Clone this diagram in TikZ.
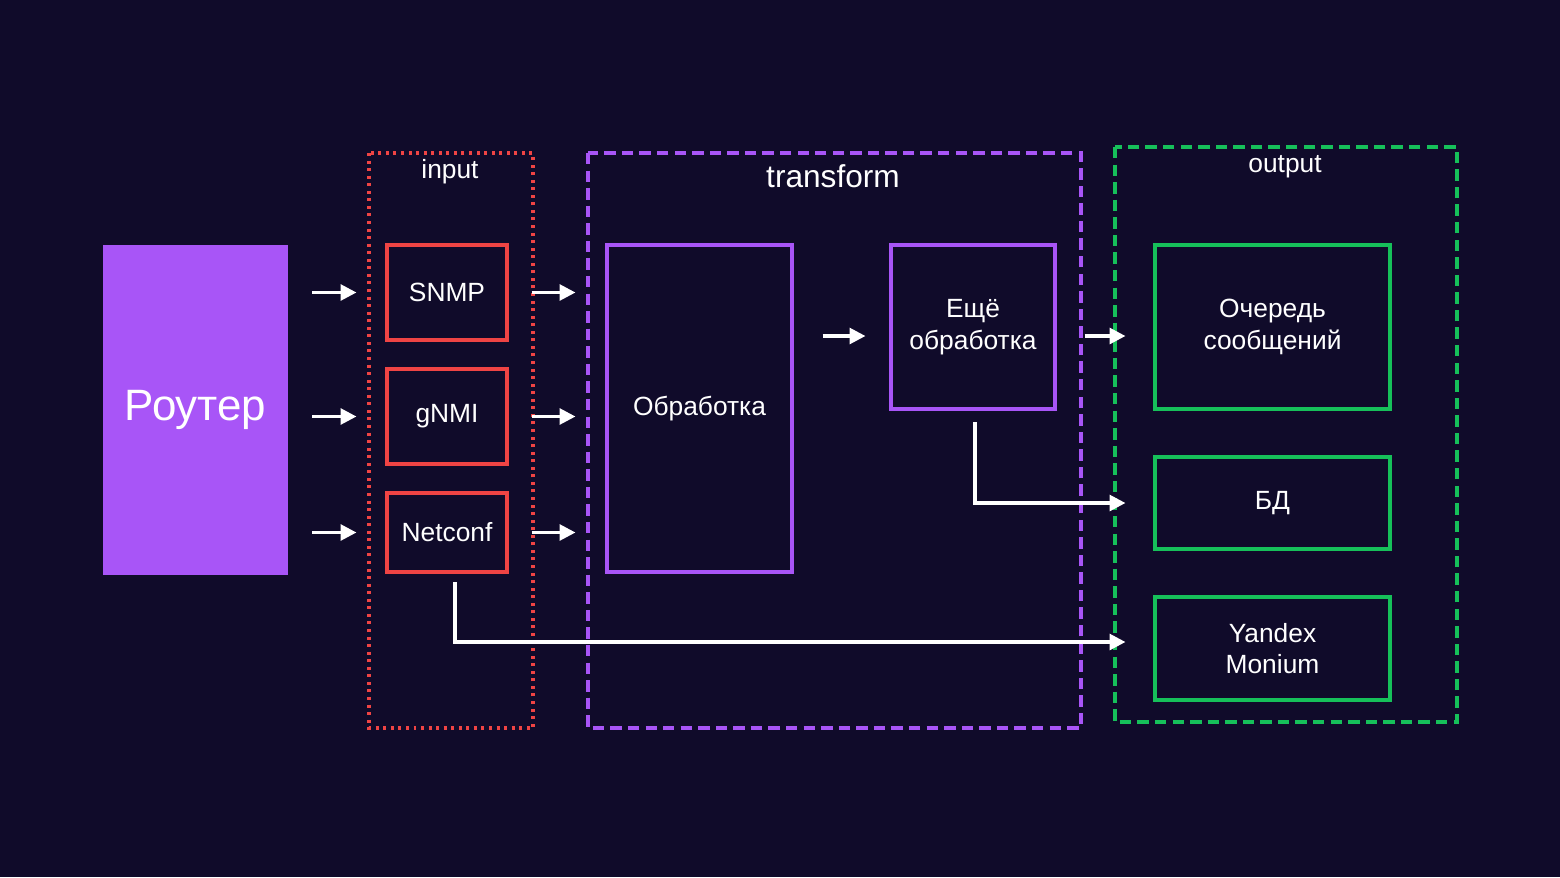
\documentclass[tikz,border=0pt]{standalone}
\usepackage{fontspec}
\setmainfont{Liberation Sans}
\usetikzlibrary{arrows.meta}
\usetikzlibrary{positioning}
\usetikzlibrary{calc}

\definecolor{bgc}{HTML}{100B2A}
\definecolor{violet}{HTML}{A855F7}
\definecolor{redc}{HTML}{EF4444}
\definecolor{greenc}{HTML}{16C05A}

\tikzset{
  box/.style={draw, line width=1.8pt, text=white, align=center, font=\fontsize{15}{18}\selectfont},
  inbox/.style={box, draw=redc, minimum width=2.4cm, minimum height=1.9cm},
  trbox/.style={box, draw=violet},
  outbox/.style={box, draw=greenc, minimum width=4.7cm},
  frame/.style={line width=1.8pt},
  arr/.style={draw=white, line width=1.8pt, -{Triangle[length=9pt,width=9pt]}},
  lbl/.style={text=white, font=\fontsize{15}{18}\selectfont}
}

\begin{document}
\begin{tikzpicture}[x=0.02cm, y=-0.02cm]
        \fill[bgc] (0,0) rectangle (1560,877);
        \useasboundingbox (0,0) rectangle (1560,877);
        % frames
        \draw[frame, redc, dash pattern=on 1.7pt off 2.6pt] (369,153) rectangle (533,728);
        \draw[frame, violet, dash pattern=on 6.5pt off 3.5pt] (588,153) rectangle (1081,728);
        \draw[frame, greenc, dash pattern=on 6.5pt off 3.5pt] (1115,147) rectangle (1457,722);
        \node[lbl] (inlbl) at (450,172) {input};
        \node[lbl, font=\fontsize{18}{21}\selectfont] (trlbl) at (833,176) {transform};
        \node[lbl] (outlbl) at (1285,167) {output};

        \node[fill=violet, minimum width=3.7cm, minimum height=6.6cm, text=white,
              font=\fontsize{25}{30}\selectfont] (router) at (195.5,410) {Роутер};

        \node[inbox] (snmp) at (447,292.5) {SNMP};
        \node[inbox] (gnmi) at (447,416.5) {gNMI};
        \node[inbox, minimum height=1.58cm] (netconf) at (447,532.5) {Netconf};

        \node[trbox, minimum width=3.7cm, minimum height=6.54cm] (proc) at (699.5,408.5) {Обработка};
        \node[trbox, minimum width=3.28cm, minimum height=3.28cm] (more) at (973,327) {Ещё\\обработка};

        \node[outbox, minimum height=3.28cm] (queue) at (1272.5,327) {Очередь\\сообщений};
        \node[outbox, minimum height=1.84cm] (db) at (1272.5,503) {БД};
        \node[outbox, minimum height=2.06cm] (monium) at (1272.5,648.5) {Yandex\\Monium};

        \coordinate (mid) at (0,336);
        \coordinate (ncstart) at (455,582);
        \coordinate (ncdown) at (455,642);
        \coordinate (mostart) at (975,422);

        \foreach \src in {snmp, gnmi, netconf} {
          \draw[arr, shorten <=0.48cm, shorten >=0.58cm] (router.east |- \src) -- (\src.west);
          \draw[arr, shorten <=0.46cm, shorten >=0.6cm] (\src.east) -- (\src.east -| proc.west);
        }
        \draw[arr, shorten <=0.58cm, shorten >=0.48cm] (proc.east |- mid) -- (more.west |- mid);
        \draw[arr, shorten <=0.56cm, shorten >=0.56cm] (more.east |- mid) -- (queue.west |- mid);
        \draw[arr, shorten >=0.56cm] (mostart) |- (db.west);
        \draw[arr, shorten >=0.56cm] (ncstart) -- (ncdown) -- (ncdown -| monium.west);
\end{tikzpicture}
\end{document}
